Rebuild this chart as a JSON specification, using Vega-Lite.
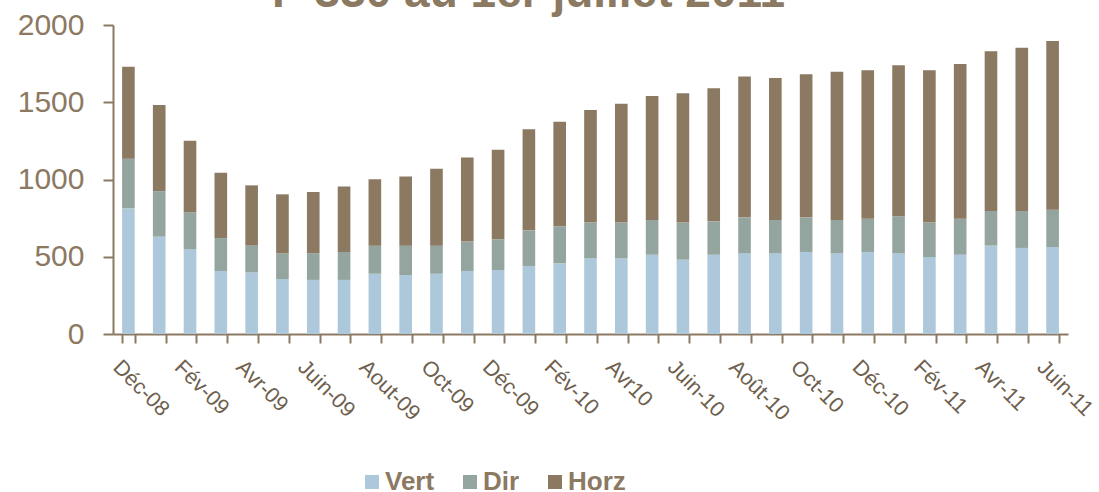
{
  "$schema": "https://vega.github.io/schema/vega-lite/v6.json",
  "autosize": "none",
  "width": 955,
  "height": 309,
  "padding": {"left": 113, "top": 25, "right": 31, "bottom": 158},
  "background": "white",
  "config": {"view": {"stroke": null}, "font": "Liberation Sans"},
  "title": {
    "text": "P 330 au 1er juillet 2011",
    "font": "Liberation Sans",
    "fontSize": 46,
    "fontWeight": "bold",
    "color": "#8b7962",
    "anchor": "middle",
    "offset": -7,
    "dx": -62
  },
  "data": {
    "values": [
      {"m": "Déc-08", "Vert": 813, "Dir": 322, "Horz": 595},
      {"m": "Jan-09", "Vert": 630, "Dir": 295, "Horz": 557},
      {"m": "Fév-09", "Vert": 548, "Dir": 240, "Horz": 463},
      {"m": "Mar-09", "Vert": 408, "Dir": 213, "Horz": 423},
      {"m": "Avr-09", "Vert": 399, "Dir": 173, "Horz": 390},
      {"m": "Mai-09", "Vert": 356, "Dir": 166, "Horz": 382},
      {"m": "Juin-09", "Vert": 350, "Dir": 172, "Horz": 397},
      {"m": "Juil-09", "Vert": 350, "Dir": 181, "Horz": 423},
      {"m": "Aout-09", "Vert": 390, "Dir": 182, "Horz": 429},
      {"m": "Sep-09", "Vert": 382, "Dir": 190, "Horz": 448},
      {"m": "Oct-09", "Vert": 390, "Dir": 182, "Horz": 498},
      {"m": "Nov-09", "Vert": 408, "Dir": 190, "Horz": 545},
      {"m": "Déc-09", "Vert": 414, "Dir": 199, "Horz": 580},
      {"m": "Jan-10", "Vert": 440, "Dir": 231, "Horz": 654},
      {"m": "Fév-10", "Vert": 457, "Dir": 240, "Horz": 677},
      {"m": "Mar-10", "Vert": 490, "Dir": 231, "Horz": 729},
      {"m": "Avr10", "Vert": 490, "Dir": 231, "Horz": 770},
      {"m": "Mai-10", "Vert": 513, "Dir": 225, "Horz": 802},
      {"m": "Juin-10", "Vert": 481, "Dir": 240, "Horz": 837},
      {"m": "Juil-10", "Vert": 513, "Dir": 216, "Horz": 861},
      {"m": "Août-10", "Vert": 522, "Dir": 233, "Horz": 911},
      {"m": "Sep-10", "Vert": 522, "Dir": 216, "Horz": 919},
      {"m": "Oct-10", "Vert": 531, "Dir": 224, "Horz": 926},
      {"m": "Nov-10", "Vert": 522, "Dir": 216, "Horz": 960},
      {"m": "Déc-10", "Vert": 531, "Dir": 215, "Horz": 961},
      {"m": "Jan-11", "Vert": 522, "Dir": 240, "Horz": 977},
      {"m": "Fév-11", "Vert": 498, "Dir": 223, "Horz": 986},
      {"m": "Mar-11", "Vert": 513, "Dir": 233, "Horz": 1002},
      {"m": "Avr-11", "Vert": 572, "Dir": 224, "Horz": 1034},
      {"m": "Mai-11", "Vert": 557, "Dir": 239, "Horz": 1057},
      {"m": "Juin-11", "Vert": 563, "Dir": 242, "Horz": 1091}
    ]
  },
  "transform": [
    {"fold": ["Vert", "Dir", "Horz"], "as": ["serie", "n"]},
    {"window": [{"op": "row_number", "as": "k"}], "groupby": ["m"]}
  ],
  "mark": {"type": "bar"},
  "encoding": {
    "x": {
      "field": "m",
      "type": "nominal",
      "sort": null,
      "scale": {"paddingInner": 0.59, "paddingOuter": 0.295},
      "axis": {
        "title": null,
        "tickBand": "extent",
        "domainColor": "#8b7962",
        "domainWidth": 2,
        "tickColor": "#8b7962",
        "tickWidth": 2,
        "tickSize": 9,
        "labelAngle": 45,
        "labelAlign": "left",
        "labelBaseline": "top",
        "labelPadding": 13,
        "labelOffset": -5,
        "labelFont": "Liberation Sans",
        "labelFontSize": 21.5,
        "labelColor": "#6e5f4e",
        "labelOverlap": false,
        "labelExpr": "indexof(['Déc-08','Fév-09','Avr-09','Juin-09','Aout-09','Oct-09','Déc-09','Fév-10','Avr10','Juin-10','Août-10','Oct-10','Déc-10','Fév-11','Avr-11','Juin-11'], datum.label) >= 0 ? datum.label : ''"
      }
    },
    "y": {
      "field": "n",
      "type": "quantitative",
      "stack": "zero",
      "scale": {"domain": [0, 2000], "nice": false},
      "axis": {
        "title": null,
        "format": "d",
        "values": [0, 500, 1000, 1500, 2000],
        "grid": false,
        "domainColor": "#8b7962",
        "domainWidth": 2,
        "tickColor": "#8b7962",
        "tickWidth": 2,
        "tickSize": 10,
        "labelPadding": 19,
        "labelFont": "Liberation Sans",
        "labelFontSize": 30,
        "labelColor": "#8b7962"
      }
    },
    "color": {
      "field": "serie",
      "type": "nominal",
      "sort": ["Vert", "Dir", "Horz"],
      "scale": {"domain": ["Vert", "Dir", "Horz"], "range": ["#adc8da", "#94a59f", "#8b7962"]},
      "legend": {
        "title": null,
        "orient": "none",
        "direction": "horizontal",
        "legendX": 246,
        "legendY": 444,
        "padding": 0,
        "symbolType": "square",
        "symbolSize": 196,
        "symbolStrokeWidth": 0,
        "labelFont": "Liberation Sans",
        "labelFontSize": 26,
        "labelFontWeight": "bold",
        "labelColor": "#8b7962",
        "labelOffset": 0,
        "columnPadding": 22
      }
    },
    "order": {"field": "k", "type": "quantitative", "sort": "ascending"}
  }
}
